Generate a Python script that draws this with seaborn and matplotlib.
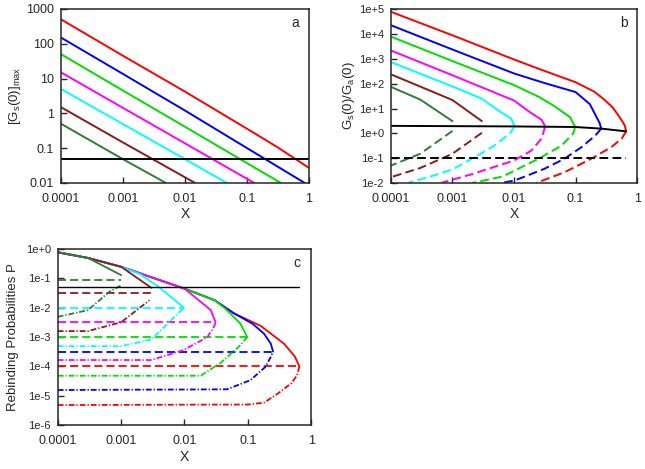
import matplotlib
matplotlib.use("Agg")
import pandas as pd
import seaborn as sns
import matplotlib.pyplot as plt
from matplotlib.ticker import NullLocator

# colours of the seven families, largest to smallest
pal = {"red": "#ff0000", "blue": "#0000ff", "green": "#00dd00", "magenta": "#ff00ff",
       "cyan": "#00ffff", "brown": "#8b1a1a", "dkgreen": "#2e7d32", "black": "#000000"}

xticks = [1e-4, 1e-3, 1e-2, 1e-1, 1]
xlabels = ["0.0001", "0.001", "0.01", "0.1", "1"]

# ---- panel a : [Gs(0)]max
a_red = ([1e-4, 1e-3, 1e-2, 0.1, 0.3, 1], [500, 45, 4.2, 0.36, 0.11, 0.027])
a_blue = ([1e-4, 1e-3, 1e-2, 0.1, 0.85], [150, 13.5, 1.2, 0.1, 0.01])
a_green = ([1e-4, 1e-3, 1e-2, 0.1, 0.35], [50, 4.5, 0.41, 0.037, 0.01])
a_magenta = ([1e-4, 1e-3, 1e-2, 0.13], [15, 1.43, 0.137, 0.01])
a_cyan = ([1e-4, 1e-3, 1e-2, 0.047], [5, 0.49, 0.048, 0.01])
a_brown = ([1e-4, 1e-3, 0.0145], [1.5, 0.145, 0.01])
a_dkgreen = ([1e-4, 1e-3, 0.0049], [0.5, 0.048, 0.01])
a_black = ([1e-4, 1], [0.05, 0.05])

# ---- panel b : Gs(0)/Ga(0), upper (solid) and lower (dashed) branches
b_red_up = ([1e-4, 1e-3, 1e-2, 0.03, 0.1, 0.2, 0.28, 0.4, 0.49, 0.58, 0.63, 0.66],
            [8e4, 9e3, 950, 340, 115, 48, 25, 11, 5.4, 2.9, 2.0, 1.2])
b_red_lo = ([0.66, 0.56, 0.38, 0.18, 0.066, 0.023], [1.2, 0.62, 0.28, 0.095, 0.027, 0.01])
b_blue_up = ([1e-4, 1e-3, 1e-2, 0.03, 0.1, 0.17, 0.21, 0.245, 0.26],
             [2.3e4, 2.4e3, 260, 110, 46, 15, 5.4, 2.6, 1.55])
b_blue_lo = ([0.26, 0.21, 0.125, 0.066, 0.031, 0.0103, 0.0063], [1.55, 0.83, 0.28, 0.095, 0.037, 0.0126, 0.01])
b_green_up = ([1e-4, 1e-3, 1e-2, 0.025, 0.044, 0.081, 0.098], [8e3, 820, 88, 30, 13, 4.5, 1.8])
b_green_lo = ([0.098, 0.091, 0.059, 0.025, 0.0065, 0.0021], [1.8, 0.98, 0.32, 0.095, 0.018, 0.01])
b_magenta_up = ([1e-4, 1e-3, 1e-2, 0.018, 0.028, 0.032], [2.2e3, 220, 21, 7.2, 3.5, 1.9])
b_magenta_lo = ([0.032, 0.028, 0.019, 0.01, 0.002, 6.6e-4], [1.9, 0.62, 0.2, 0.08, 0.022, 0.01])
b_cyan_up = ([1e-4, 1e-3, 3e-3, 0.0055, 0.0089, 0.0102], [750, 78, 25, 8.5, 4, 1.9])
b_cyan_lo = ([0.0102, 0.0085, 0.0048, 0.0023, 0.001, 5e-4, 1.9e-4], [1.9, 0.98, 0.32, 0.11, 0.035, 0.02, 0.01])
b_brown_up = ([1e-4, 1e-3, 3e-3], [240, 22, 3.1])
b_brown_lo = ([3e-3, 1e-3, 3e-4, 1e-4], [1.05, 0.15, 0.04, 0.017])
b_dkgreen_up = ([1e-4, 3e-4, 1e-3], [75, 23, 3.1])
b_dkgreen_lo = ([1e-3, 3e-4, 1e-4], [1.25, 0.15, 0.05])
b_black_up = ([1e-4, 0.01, 0.098, 0.26, 0.66], [2.0, 1.9, 1.8, 1.55, 1.2])
b_black_lo = ([1e-4, 0.66], [0.1, 0.1])

# ---- panel c : rebinding probabilities P
c_red_up = ([1e-4, 3e-4, 1e-3, 3e-3, 0.01, 0.03, 0.06, 0.16, 0.37, 0.55, 0.65],
            [0.78, 0.5, 0.25, 0.11, 0.045, 0.018, 0.0065, 0.0024, 6e-4, 2.2e-4, 1e-4])
c_blue_up = ([1e-4, 3e-4, 1e-3, 3e-3, 0.01, 0.03, 0.06, 0.12, 0.18, 0.23, 0.25],
             [0.78, 0.5, 0.25, 0.11, 0.045, 0.018, 0.0065, 0.0028, 0.0013, 6e-4, 3.2e-4])
c_green_up = ([1e-4, 3e-4, 1e-3, 3e-3, 0.01, 0.03, 0.045, 0.076, 0.098],
              [0.78, 0.5, 0.25, 0.11, 0.045, 0.018, 0.009, 0.0029, 0.001])
c_magenta_up = ([1e-4, 3e-4, 1e-3, 3e-3, 0.01, 0.018, 0.026, 0.031],
                [0.78, 0.5, 0.25, 0.11, 0.045, 0.016, 0.0083, 0.0032])
c_cyan_up = ([1e-4, 3e-4, 1e-3, 2e-3, 3.9e-3, 0.0098], [0.78, 0.5, 0.25, 0.14, 0.052, 0.01])
c_brown_up = ([1e-4, 3e-4, 1e-3, 3e-3], [0.78, 0.5, 0.25, 0.048])
c_dkgreen_up = ([1e-4, 3e-4, 1e-3], [0.78, 0.5, 0.13])

c_red_mid = ([1e-4, 0.65], [1e-4, 1e-4])
c_blue_mid = ([1e-4, 0.25], [3.2e-4, 3.2e-4])
c_green_mid = ([1e-4, 0.098], [1e-3, 1e-3])
c_magenta_mid = ([1e-4, 0.031], [3.2e-3, 3.2e-3])
c_cyan_mid = ([1e-4, 0.0098], [0.01, 0.01])
c_brown_mid = ([1e-4, 3e-3], [0.031, 0.031])
c_dkgreen_mid = ([1e-4, 1e-3], [0.088, 0.088])

c_red_lo = ([1e-4, 0.1, 0.18, 0.3, 0.48, 0.6, 0.65], [4.8e-6, 5e-6, 5.8e-6, 1.2e-5, 2.6e-5, 5e-5, 1e-4])
c_blue_lo = ([1e-4, 0.047, 0.11, 0.19, 0.23, 0.25], [1.56e-5, 1.65e-5, 3.4e-5, 9.7e-5, 2.1e-4, 3.2e-4])
c_green_lo = ([1e-4, 0.018, 0.037, 0.072, 0.098], [4.8e-5, 4.8e-5, 1.3e-4, 4.7e-4, 1e-3])
c_magenta_lo = ([1e-4, 3e-3, 0.0097, 0.023, 0.029, 0.031], [1.65e-4, 1.65e-4, 3.6e-4, 1e-3, 2.2e-3, 3.2e-3])
c_cyan_lo = ([1e-4, 1e-3, 3e-3, 0.0098], [4.9e-4, 4.9e-4, 8.3e-4, 0.01])
c_brown_lo = ([1e-4, 3e-4, 1e-3, 2.8e-3], [1.6e-3, 1.6e-3, 3.2e-3, 0.018])
c_dkgreen_lo = ([1e-4, 3e-4, 6.5e-4, 1e-3], [4.9e-3, 8.3e-3, 0.035, 0.058])

c_black = ([1e-4, 0.65], [0.05, 0.05])


def frame(curves):
    parts = []
    for col, kind, (xs, ys) in curves:
        parts.append(pd.DataFrame({"x": xs, "y": ys, "col": col, "kind": kind}))
    return pd.concat(parts, ignore_index=True)


dash_map = {"solid": "", "dash": (4.5, 2.2), "dashdot": (3.2, 1.1, 0.7, 1.1)}


def draw(ax, curves, lw):
    df = frame(curves)
    sns.lineplot(data=df, x="x", y="y", hue="col", style="kind", palette=pal,
                 dashes=dash_map, estimator=None, sort=False, legend=False,
                 linewidth=lw, ax=ax)


def dress(ax, ylo, yhi, yticks, ylabels, ylabel, tag, ysize, ypad):
    ax.set_xscale("log")
    ax.set_yscale("log")
    ax.set_xlim(1e-4, 1)
    ax.set_ylim(ylo, yhi)
    ax.set_xticks(xticks)
    ax.set_xticklabels(xlabels)
    ax.set_yticks(yticks)
    ax.set_yticklabels(ylabels)
    ax.xaxis.set_minor_locator(NullLocator())
    ax.yaxis.set_minor_locator(NullLocator())
    ax.tick_params(direction="in", length=4, width=1, labelsize=9)
    ax.tick_params(axis="x", pad=7)
    ax.tick_params(axis="y", pad=5, labelsize=ysize)
    ax.set_xlabel("X", fontsize=10, labelpad=2)
    ax.set_ylabel(ylabel, fontsize=9.5, labelpad=ypad)
    for s in ax.spines.values():
        s.set_linewidth(1.1)
    ax.text(0.945, 0.92, tag, transform=ax.transAxes, ha="center", va="center", fontsize=10)


sns.set_style("ticks")
plt.rcParams["font.family"] = ["Liberation Sans", "DejaVu Sans"]
plt.rcParams["mathtext.default"] = "regular"

fig = plt.figure(figsize=(6.45, 4.69), dpi=100)
ax_a = fig.add_axes([0.0946, 0.610, 0.3845, 0.371])
ax_b = fig.add_axes([0.606, 0.610, 0.382, 0.370])
ax_c = fig.add_axes([0.0895, 0.0938, 0.393, 0.375])

# panel a
draw(ax_a, [("red", "solid", a_red), ("blue", "solid", a_blue), ("green", "solid", a_green),
            ("magenta", "solid", a_magenta), ("cyan", "solid", a_cyan), ("brown", "solid", a_brown),
            ("dkgreen", "solid", a_dkgreen), ("black", "solid", a_black)], 1.4)
dress(ax_a, 0.01, 1000, [0.01, 0.1, 1, 10, 100, 1000],
      ["0.01", "0.1", "1", "10", "100", "1000"], "[G$_s$(0)]$_{max}$", "a", 9, 2)

# panel b
draw(ax_b, [("red", "solid", b_red_up), ("red", "dash", b_red_lo),
            ("blue", "solid", b_blue_up), ("blue", "dash", b_blue_lo),
            ("green", "solid", b_green_up), ("green", "dash", b_green_lo),
            ("magenta", "solid", b_magenta_up), ("magenta", "dash", b_magenta_lo),
            ("cyan", "solid", b_cyan_up), ("cyan", "dash", b_cyan_lo),
            ("brown", "solid", b_brown_up), ("brown", "dash", b_brown_lo),
            ("dkgreen", "solid", b_dkgreen_up), ("dkgreen", "dash", b_dkgreen_lo),
            ("black", "solid", b_black_up), ("black", "dash", b_black_lo)], 1.4)
dress(ax_b, 1e-2, 1e5, [1e-2, 1e-1, 1, 10, 100, 1e3, 1e4, 1e5],
      ["1e-2", "1e-1", "1e+0", "1e+1", "1e+2", "1e+3", "1e+4", "1e+5"],
      "G$_s$(0)/G$_a$(0)", "b", 8, 1)

# panel c
draw(ax_c, [("red", "solid", c_red_up), ("red", "dash", c_red_mid), ("red", "dashdot", c_red_lo),
            ("blue", "solid", c_blue_up), ("blue", "dash", c_blue_mid), ("blue", "dashdot", c_blue_lo),
            ("green", "solid", c_green_up), ("green", "dash", c_green_mid), ("green", "dashdot", c_green_lo),
            ("magenta", "solid", c_magenta_up), ("magenta", "dash", c_magenta_mid),
            ("magenta", "dashdot", c_magenta_lo),
            ("cyan", "solid", c_cyan_up), ("cyan", "dash", c_cyan_mid), ("cyan", "dashdot", c_cyan_lo),
            ("brown", "solid", c_brown_up), ("brown", "dash", c_brown_mid), ("brown", "dashdot", c_brown_lo),
            ("dkgreen", "solid", c_dkgreen_up), ("dkgreen", "dash", c_dkgreen_mid),
            ("dkgreen", "dashdot", c_dkgreen_lo)], 1.3)
draw(ax_c, [("black", "solid", c_black)], 1.0)
dress(ax_c, 1e-6, 1, [1e-6, 1e-5, 1e-4, 1e-3, 1e-2, 1e-1, 1],
      ["1e-6", "1e-5", "1e-4", "1e-3", "1e-2", "1e-1", "1e+0"],
      "Rebinding Probabilities P", "c", 8, 5)

fig.savefig("out.png", dpi=100)
